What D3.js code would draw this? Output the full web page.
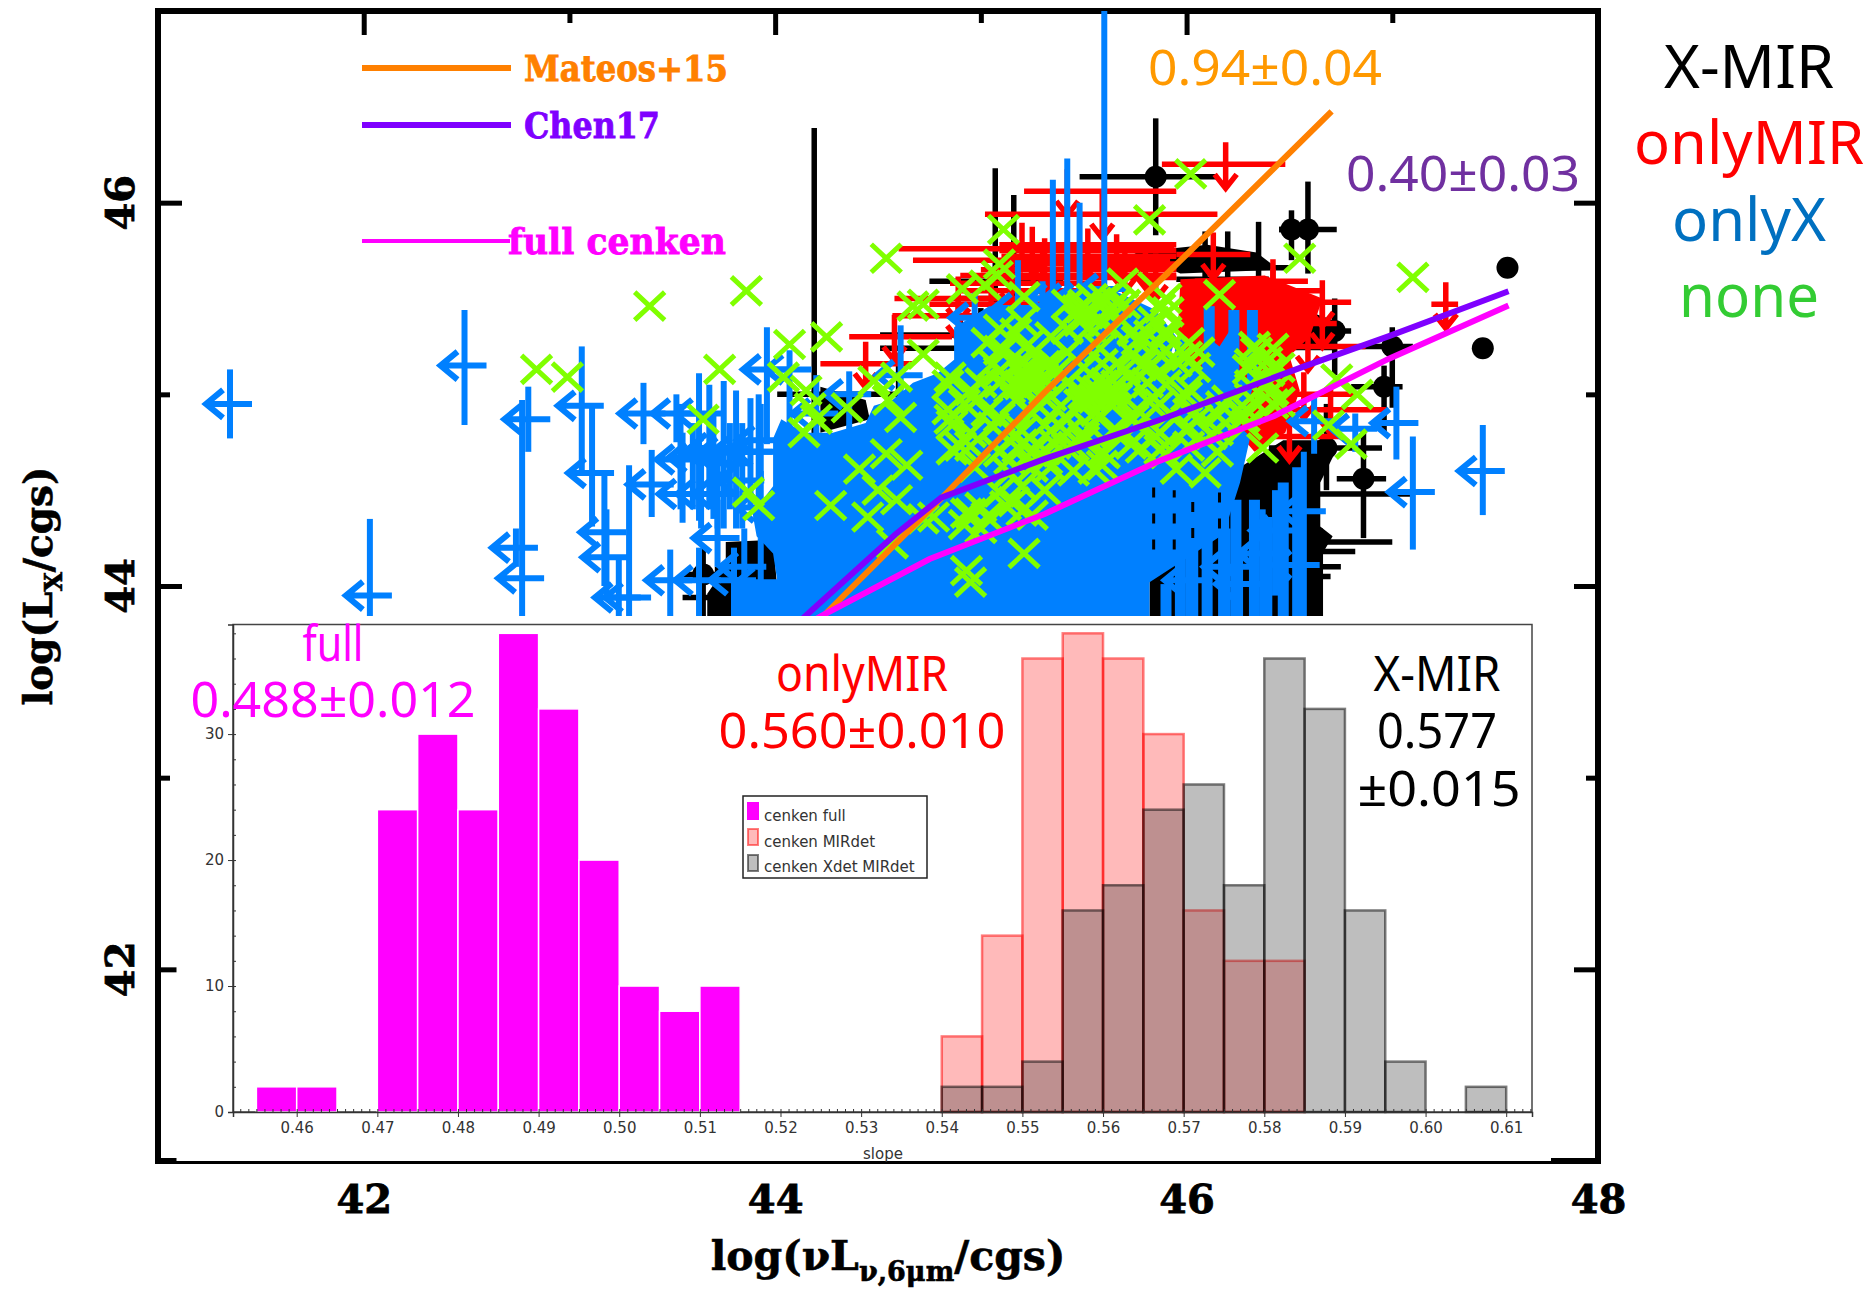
<!DOCTYPE html>
<html>
<head>
<meta charset="utf-8">
<script src="https://cdn.jsdelivr.net/npm/d3@7"></script>
<style>
  html, body { margin: 0; padding: 0; background: #fff; }
  svg { display: block; }
  .serif { font-family: "DejaVu Serif", serif; font-weight: bold; }
  .note { font-family: "Noto Sans", "DejaVu Sans", sans-serif; }
  .small { font-family: "DejaVu Sans", sans-serif; fill: #333; }
</style>
</head>
<body>
<div id="chart"></div>
<script>
// ---- main panel values (log units) ----
var majorTicks = [42, 44, 46, 48];
var minorTicks = [43, 45, 47];
var yMajorTicks = [42, 44, 46];
var yMinorTicks = [43, 45];

// [x, y, yLow, yHigh]
var blueLimits = [
  [41.35,44.95,44.77,45.13],[42.49,45.15,44.84,45.44],[42.80,44.87,44.70,45.04],[42.74,44.20,44.10,44.30],
  [42.77,44.04,43.80,44.97],[43.06,44.94,44.59,45.25],[43.11,44.59,44.31,44.93],[43.36,44.90,44.74,45.06],
  [43.40,44.53,44.36,44.71],[43.17,44.28,44.00,44.60],[43.18,44.15,43.95,44.40],[43.24,43.94,43.80,44.15],
  [43.29,43.94,43.80,44.63],[43.49,44.03,43.80,44.19],[42.03,43.95,43.70,44.35],[43.63,44.90,44.34,45.11],
  [43.54,44.66,44.40,44.95],[43.55,44.48,44.33,44.80],[43.52,44.90,44.75,45.00],[43.96,45.13,44.74,45.35],
  [44.07,45.13,44.80,45.23],[43.63,44.03,43.80,44.20],[43.80,44.03,43.80,44.20],[43.68,44.70,44.40,45.05],
  [43.75,44.70,44.30,45.07],[43.81,44.70,44.30,45.02],[43.88,44.70,44.40,44.98],[43.92,44.70,44.40,45.00],
  [43.60,44.67,44.40,44.85],[43.64,44.48,44.30,44.70],[43.70,44.72,44.35,44.90],[43.72,44.48,44.30,44.70],
  [43.78,44.64,44.40,44.85],[43.84,44.55,44.30,44.85],[43.93,44.76,44.55,44.95],[43.93,44.41,44.25,44.60],
  [43.85,44.10,43.80,44.30],[43.93,44.02,43.80,44.25],[43.72,44.25,44.10,44.45],
  [47.02,44.85,44.66,45.04],[47.10,44.49,44.19,44.78],[47.44,44.60,44.37,44.84],[46.82,44.82,44.70,44.90],
  [46.62,44.86,44.69,45.00],[46.57,44.39,43.80,44.70],[46.54,44.11,43.80,44.41],[46.37,44.17,43.80,44.40],
  [46.26,44.01,43.80,44.20],[46.01,44.03,43.80,44.20],[46.43,44.29,43.95,44.50],[46.20,44.10,43.80,44.30],
  [45.60,45.55,45.30,47.00],[45.42,45.50,45.30,46.23],[45.35,45.50,45.30,46.12],[45.48,45.50,45.30,46.00],
  [45.30,45.40,45.20,45.59],[45.18,45.45,45.20,45.70],[44.97,45.40,45.10,45.53],[44.61,45.10,44.90,45.36],
  [44.36,45.00,44.80,45.12],[44.20,44.90,44.70,45.10]
];

// blue error bars that merge into columns [x, yLow, yHigh]
var blueBars = [
  [45.90,43.70,44.01],[45.97,43.70,44.15],[46.03,43.70,44.19],[46.10,43.70,44.27],[46.18,43.70,44.45],
  [46.24,43.70,44.45],[46.33,43.70,44.45],[46.39,43.70,44.36],[46.47,43.70,44.54],[46.54,43.70,44.62],
  [46.11,45.09,45.46],[46.23,45.00,45.44],[46.32,45.05,45.44],[45.97,45.10,45.29]
];

// [x, y, xLow, xHigh]
var redLimits = [
  [46.19,46.20,45.88,46.48],[45.42,46.06,45.21,45.95],[45.59,45.94,45.02,46.15],[45.25,45.76,44.60,45.94],
  [45.31,45.70,44.67,45.92],[46.13,45.73,45.95,46.31],[44.89,45.50,44.58,45.59],[44.89,45.41,44.57,45.42],
  [44.58,45.30,44.36,44.86],[44.44,45.16,44.22,44.67],[46.42,45.59,46.04,46.59],[46.42,45.54,46.09,46.66],
  [46.66,45.48,46.15,46.80],[46.66,45.37,46.29,46.73],[46.59,45.25,46.01,46.87],[46.57,45.00,46.29,46.83],
  [46.70,44.92,46.40,46.97],[47.26,45.47,47.19,47.32],[45.48,45.61,45.03,45.95],[45.70,45.66,45.40,45.95],
  [45.20,45.78,45.09,45.95],[45.52,45.75,45.09,45.95],[45.66,45.72,45.10,45.95],[45.80,45.68,45.10,45.95],
  [45.30,45.65,45.00,45.95],[45.85,45.62,44.90,45.95],[45.15,45.58,44.85,45.60],[45.30,45.54,44.90,45.60],
  [45.05,45.47,44.75,45.50],[45.20,45.35,44.95,45.50],[46.50,44.78,46.35,46.75]
];

// black detections with a visible circle [x, y, xLow, xHigh, yLow, yHigh]
var blackPoints = [
  [45.85,46.135,45.48,46.15,45.83,46.44],[46.59,45.86,46.45,46.73,45.63,46.11],[46.51,45.86,46.45,46.60,45.70,45.96],
  [47.56,45.66,47.56,47.56,45.66,45.66],[47.44,45.24,47.44,47.44,45.24,45.24],[47.00,45.25,46.85,47.10,44.93,45.35],
  [46.96,45.04,46.80,47.05,44.80,45.15],[46.86,44.56,46.73,46.97,44.25,44.82],[46.68,44.72,46.40,46.95,44.50,44.95],
  [46.72,45.33,46.40,46.80,45.10,45.50],[43.65,44.06,43.55,43.90,43.80,44.20]
];

// black detections whose circle is buried under other marks, only the bars show
var blackBars = [
  [44.19,44.70,44.10,44.40,44.70,46.39],[44.60,45.00,44.01,44.70,44.80,45.20],
  [45.07,45.59,44.75,45.40,45.30,46.18],[45.16,45.50,44.90,45.40,45.20,46.04],[44.90,45.24,44.51,45.20,45.00,45.40],
  [45.00,45.31,44.51,45.20,45.10,45.45],
  [46.20,45.60,45.95,46.40,45.30,45.85],[46.35,45.66,46.10,46.50,45.40,45.90],[46.09,45.72,45.75,46.20,45.50,45.85],
  [46.57,44.23,46.30,47.00,44.00,44.50],[46.43,44.18,46.20,46.82,43.80,44.40],[46.60,44.48,46.30,47.10,44.20,44.70],
  [46.65,44.10,46.40,46.75,43.80,44.30],[46.61,44.05,46.40,46.70,43.80,44.30],[46.50,44.00,46.30,46.65,43.80,44.25],
  [43.72,43.94,43.55,43.90,43.80,44.10]
];

// [x, y]
var greenPoints = [
  [43.39,45.46],[43.86,45.54],[42.84,45.13],[42.99,45.09],[44.54,45.71],[44.25,45.30],[44.07,45.26],[43.73,45.13],
  [45.11,45.86],[46.02,46.15],[45.82,45.91],[46.55,45.71],[47.10,45.61],[44.72,45.47],[45.09,45.68],
  [43.65,44.87],[43.87,44.49],[43.92,44.42],[44.27,44.42],[44.04,45.09],[44.15,45.02],[44.17,44.93],[44.20,44.87],[44.14,44.80],
  [44.35,44.93],[44.48,45.07],[44.59,45.09],[44.55,44.97],[44.61,44.88],[44.72,45.21],[44.85,45.09],[44.91,45.55],[45.08,45.62],[45.21,45.51],
  [44.41,44.61],[44.54,44.69],[44.64,44.63],[44.45,44.36],[44.50,44.50],[44.59,44.45],[45.21,44.17],[44.93,44.08],[44.95,44.02],
  [44.77,44.36],[44.93,44.38],[44.57,44.22],[44.85,44.87],[44.90,44.73],[44.98,44.97],[45.09,45.34],[45.06,45.16],
  [46.37,44.72],[46.69,44.84],[46.80,44.74],[46.73,45.08],[46.83,45.00],
  [45.02,45.57],[45.20,45.38],[45.69,45.58],[45.84,45.56],[45.90,45.50],[46.16,45.52],
  [44.67,45.46],[45.42,45.47],[45.49,45.45],[45.56,45.48],[45.63,45.44],[45.70,45.47],[45.87,45.45],[45.91,45.43],
  [45.42,45.34],[45.48,45.38],[45.53,45.35],[45.59,45.37],[45.64,45.34],[45.84,45.38],[45.90,45.33],
  [45.03,45.27],[45.11,45.23],[45.23,45.26],[45.42,45.22],[45.76,45.28],[45.84,45.24],[46.01,45.27],[46.06,45.22],[46.33,45.25],
  [45.09,45.12],[45.20,45.16],[45.25,45.13],[45.31,45.15],[45.37,45.12],
  [45.59,45.16],[45.70,45.13],[45.78,45.15],[45.87,45.12],[46.04,45.14],[46.31,45.16],[46.40,45.12],[46.45,45.14],
  [44.84,45.05],[44.95,45.02],[45.00,45.06],[45.14,45.03],[45.23,45.05],
  [45.31,45.02],[45.42,45.06],[45.53,45.03],[45.59,45.05],[45.64,45.02],[45.81,45.06],[46.01,45.03],[46.31,45.05],[46.42,45.02],
  [44.84,44.92],[44.92,44.95],[45.03,44.91],[45.28,44.94],
  [45.37,44.92],[45.48,44.95],[45.56,44.91],[45.64,44.94],[45.76,44.92],[45.87,44.95],[46.04,44.91],[46.17,44.94],[46.29,44.92],[46.42,44.95],
  [44.86,44.84],[44.95,44.80],[45.06,44.83],[45.20,44.81],[45.31,44.84],[45.42,44.80],[45.53,44.83],
  [45.64,44.81],[45.76,44.84],[45.87,44.80],[46.01,44.83],[46.15,44.81],[46.29,44.84],
  [44.86,44.71],[44.95,44.73],[45.09,44.70],[45.20,44.74],[45.31,44.71],[45.45,44.73],
  [45.59,44.70],[45.73,44.74],[45.87,44.71],[46.01,44.73],[46.15,44.70],
  [44.97,44.62],[45.14,44.59],[45.25,44.62],[45.45,44.60],[45.59,44.63],[45.95,44.61],[46.09,44.59],
  [45.09,44.49],[45.20,44.52],[45.31,44.50],[44.95,44.38],[45.00,44.41],[45.20,44.39],[45.25,44.37],
  [44.72,44.35],[44.92,44.32],[45.00,44.30],[45.03,44.36],
  // tight knots where the crosses merge
  [45.20,45.10],[45.24,45.08],[45.26,45.12],[45.19,45.05],[45.28,45.06],[45.22,45.14],[45.30,45.09],
  [45.50,45.47],[45.54,45.50],[45.58,45.46],[45.47,45.44],[45.52,45.42],[45.60,45.50],[45.66,45.48],
  [45.57,45.02],[45.61,45.06],[45.55,44.98],[45.63,44.99],[45.66,45.05],[45.50,45.00],
  [45.14,44.66],[45.18,44.72],[45.32,44.66],[45.36,44.74],[45.50,44.76],[45.12,44.42],[45.16,44.44],
  // filling of the band between the two fits
  [45.17,45.32],[45.34,45.30],[45.74,45.33],[45.82,45.31],[45.90,45.30],
  [45.09,45.23],[45.25,45.21],[45.58,45.24],[45.74,45.21],[45.90,45.23],[46.00,45.20],[46.34,45.22],[46.42,45.24],
  [45.17,45.15],[45.34,45.17],[45.50,45.14],[45.66,45.16],[45.82,45.14],[45.95,45.17],[46.30,45.13],[46.39,45.17],
  [45.09,45.06],[45.25,45.04],[45.74,45.07],[45.90,45.05],[46.40,45.06],
  [45.17,44.97],[45.34,44.99],[45.50,44.96],[45.66,44.98],[45.82,44.96],[46.00,44.99],[46.20,44.97],[46.31,44.98],[46.45,44.96],
  [45.09,44.88],[45.25,44.90],[45.42,44.87],[45.58,44.89],[45.74,44.87],[45.92,44.90],[46.05,44.87],[46.15,44.89],[46.28,44.88],
  [45.17,44.79],[45.34,44.81],[45.50,44.78],[45.66,44.80],[45.85,44.78],[46.00,44.81],[46.12,44.79],
  [45.25,44.70],[45.42,44.72],[45.60,44.69],[45.78,44.72],[45.90,44.69],
  [45.34,44.62],[45.55,44.61]
];

// outlines of the parts where the marks merge into a solid colour [x, y]
var blueMass = [
  [43.81,43.65],[43.81,44.00],[44.01,44.03],[43.99,44.17],[43.91,44.26],[43.89,44.38],[43.99,44.52],[43.99,44.77],
  [44.03,44.87],[44.14,44.80],[44.28,44.80],[44.44,44.85],[44.48,44.94],[44.57,44.97],[44.67,45.06],[44.79,45.11],
  [44.87,45.18],[44.87,45.35],[44.95,45.40],[45.04,45.46],[45.22,45.44],[45.40,45.55],[45.65,45.54],[45.85,45.44],
  [45.95,45.30],[45.92,45.20],[46.07,45.13],[46.10,45.30],[46.16,45.25],[46.22,45.35],[46.26,45.09],[46.33,45.06],
  [46.26,44.83],[46.31,44.78],[46.26,44.54],[46.18,44.27],[45.82,44.02],[45.82,43.65]
];
var redMass = [
  [45.97,45.60],[46.38,45.62],[46.66,45.50],[46.60,45.30],[46.50,45.20],[46.55,45.02],[46.48,44.80],[46.33,44.70],
  [46.25,44.80],[45.95,45.15]
];
var blackMass = [
  [46.47,44.76],[46.71,44.76],[46.71,44.67],[46.65,44.54],[46.65,44.31],[46.71,44.26],[46.65,44.15],[46.665,43.65],
  [45.82,43.65],[45.82,44.19],[46.26,44.62]
];
var blackMassTop = [[45.74,45.74],[46.10,45.78],[46.34,45.74],[46.45,45.65],[45.97,45.63]];
var blackMassRight = [[46.52,45.46],[46.76,45.37],[46.71,45.23],[46.52,45.23]];
var blackMassLeft = [[43.76,44.23],[43.99,44.24],[44.01,43.99],[43.81,43.65],[43.67,43.65],[43.67,43.96],[43.76,44.10]];
var blackMassUpper = [[44.22,45.04],[44.44,44.97],[44.46,44.87],[44.22,44.80]];

// black bars that show through the blue as broken lines [x, yLow, yHigh]
var blackStreaks = [[45.84,44.19,44.54],[45.94,44.19,44.50],[46.03,44.25,44.54],[46.16,44.30,44.54]];

// fitted relations [x, y]
var orangeFit = [[44.10,43.70],[44.81,44.46],[45.31,45.01],[46.01,45.74],[46.705,46.476]];
var violetFit = [[44.00,43.70],[44.584,44.269],[44.807,44.461],[45.31,44.663],[45.868,44.866],[46.565,45.143],[46.984,45.304],[47.565,45.538]];
var magentaFit = [[44.00,43.70],[44.221,43.842],[44.751,44.141],[45.31,44.376],[45.868,44.653],[46.426,44.887],[46.984,45.186],[47.565,45.463]];

var legendNames = ["Mateos+15", "Chen17", "full cenken"];
var legendColors = ["#ff8000", "#7f00ff", "#ff00ff"];

// ---- inset histogram values ----
var binStarts = [0.455,0.46,0.465,0.47,0.475,0.48,0.485,0.49,0.495,0.50,0.505,0.51,0.515,0.52,0.525,0.53,0.535,
                 0.54,0.545,0.55,0.555,0.56,0.565,0.57,0.575,0.58,0.585,0.59,0.595,0.60,0.605];
var fullCounts = [2,2,0,24,30,24,38,32,20,10,8,10,0,0,0,0,0,0,0,0,0,0,0,0,0,0,0,0,0,0,0];
var mirCounts  = [0,0,0,0,0,0,0,0,0,0,0,0,0,0,0,0,0,6,14,36,38,36,30,16,12,12,0,0,0,0,0];
var xmirCounts = [0,0,0,0,0,0,0,0,0,0,0,0,0,0,0,0,0,2,2,4,16,18,24,26,18,36,32,16,4,0,2];
var slopeTicks = [0.46,0.47,0.48,0.49,0.50,0.51,0.52,0.53,0.54,0.55,0.56,0.57,0.58,0.59,0.60,0.61];
var countTicks = [0,10,20,30];
var insetLegend = ["cenken full", "cenken MIRdet", "cenken Xdet MIRdet"];

var width = 1876, height = 1295;

var svg = d3.select("#chart").append("svg")
    .attr("width", width)
    .attr("height", height);

var x = d3.scaleLinear().domain([41, 48]).range([158, 1598]);
var y = d3.scaleLinear().domain([41, 47]).range([1161, 11]);

var insetX = d3.scaleLinear().domain([0.4521, 0.6132]).range([233, 1532]);
var insetY = d3.scaleLinear().domain([0, 38.7]).range([1112, 624.5]);

//frame and ticks go first, the data sits on top of them
svg.append("rect")
    .attr("x", x(41)).attr("y", y(47))
    .attr("width", x(48) - x(41)).attr("height", y(41) - y(47))
    .attr("fill", "none").attr("stroke", "#000").attr("stroke-width", 6);

function styleAxis(g) {
    g.select(".domain").remove();
    g.selectAll("line").attr("stroke", "#000").attr("stroke-width", 5);
}

svg.append("g").attr("transform", "translate(0," + y(47) + ")")
    .call(d3.axisTop(x).tickValues(majorTicks).tickFormat("").tickSize(-24)).call(styleAxis);
svg.append("g").attr("transform", "translate(0," + y(47) + ")")
    .call(d3.axisTop(x).tickValues(minorTicks).tickFormat("").tickSize(-12)).call(styleAxis);
svg.append("g").attr("transform", "translate(0," + y(41) + ")")
    .call(d3.axisBottom(x).tickValues(majorTicks).tickFormat(d3.format("d")).tickSize(-24).tickPadding(24))
    .call(styleAxis)
    .selectAll("text").attr("class", "serif").attr("font-size", 40)
    .attr("fill", "#000").attr("stroke", "#000").attr("stroke-width", 0.8);
svg.append("g").attr("transform", "translate(" + x(41) + ",0)")
    .call(d3.axisLeft(y).tickValues(yMajorTicks).tickFormat("").tickSize(-24)).call(styleAxis);
svg.append("g").attr("transform", "translate(" + x(41) + ",0)")
    .call(d3.axisLeft(y).tickValues(yMinorTicks).tickFormat("").tickSize(-12)).call(styleAxis);
svg.append("g").attr("transform", "translate(" + x(48) + ",0)")
    .call(d3.axisRight(y).tickValues(yMajorTicks).tickFormat("").tickSize(-24)).call(styleAxis);
svg.append("g").attr("transform", "translate(" + x(48) + ",0)")
    .call(d3.axisRight(y).tickValues(yMinorTicks).tickFormat("").tickSize(-12)).call(styleAxis);

//the y labels are turned by hand because they read upward
svg.selectAll(".yLabel").data(yMajorTicks).enter().append("text")
    .attr("class", "serif yLabel")
    .attr("font-size", 40)
    .attr("text-anchor", "middle")
    .attr("stroke", "#000").attr("stroke-width", 0.8)
    .attr("transform", function(d){ return "translate(134," + y(d) + ") rotate(-90)"; })
    .text(function(d){ return d; });

var yTitle = svg.append("text").attr("class", "serif")
    .attr("font-size", 39)
    .attr("text-anchor", "middle")
    .attr("stroke", "#000").attr("stroke-width", 0.6)
    .attr("transform", "translate(52,586) rotate(-90)");
yTitle.append("tspan").text("log(L");
yTitle.append("tspan").attr("font-size", 25).attr("dy", 10).text("X");
yTitle.append("tspan").attr("dy", -10).text("/cgs)");

var xTitle = svg.append("text").attr("class", "serif")
    .attr("font-size", 41)
    .attr("text-anchor", "middle")
    .attr("stroke", "#000").attr("stroke-width", 0.6)
    .attr("x", 888).attr("y", 1270);
xTitle.append("tspan").text("log(\u03bdL");
xTitle.append("tspan").attr("font-size", 27).attr("dy", 11).text("\u03bd,6\u03bcm");
xTitle.append("tspan").attr("dy", -11).text("/cgs)");

var massLine = d3.line()
    .x(function(d){ return x(d[0]); })
    .y(function(d){ return y(d[1]); });

function drawMass(points, color) {
    svg.append("path")
        .attr("d", massLine(points) + "Z")
        .attr("fill", color);
}

// black detections, circles with error bars
[blackMass, blackMassTop, blackMassRight, blackMassLeft, blackMassUpper].forEach(function(m){
    drawMass(m, "#000");
});
var black = svg.append("g").attr("stroke", "#000").attr("stroke-width", 5.5);
var allBlack = blackPoints.concat(blackBars);
black.selectAll(".h").data(allBlack).enter().append("line")
    .attr("x1", function(d){ return x(d[2]); }).attr("x2", function(d){ return x(d[3]); })
    .attr("y1", function(d){ return y(d[1]); }).attr("y2", function(d){ return y(d[1]); });
black.selectAll(".v").data(allBlack).enter().append("line")
    .attr("x1", function(d){ return x(d[0]); }).attr("x2", function(d){ return x(d[0]); })
    .attr("y1", function(d){ return y(d[4]); }).attr("y2", function(d){ return y(d[5]); });
black.selectAll("circle").data(blackPoints).enter().append("circle")
    .attr("cx", function(d){ return x(d[0]); })
    .attr("cy", function(d){ return y(d[1]); })
    .attr("r", 11).attr("fill", "#000").attr("stroke", "none");

// red upper limits
drawMass(redMass, "#f00");
var red = svg.append("g").attr("stroke", "#f00").attr("stroke-width", 5.5).attr("fill", "none");
red.selectAll("line").data(redLimits).enter().append("line")
    .attr("x1", function(d){ return x(d[2]); }).attr("x2", function(d){ return x(d[3]); })
    .attr("y1", function(d){ return y(d[1]); }).attr("y2", function(d){ return y(d[1]); });
red.selectAll("path").data(redLimits).enter().append("path")
    .attr("d", function(d){
        var px = x(d[0]), py = y(d[1]);
        return "M" + px + "," + (py - 22) + "V" + (py + 24)
             + "M" + (px - 11) + "," + (py + 10) + "L" + px + "," + (py + 24) + "L" + (px + 11) + "," + (py + 10);
    });

// blue limits
drawMass(blueMass, "#0080ff");
var blue = svg.append("g").attr("stroke", "#0080ff").attr("stroke-width", 6).attr("fill", "none");
blue.selectAll(".bar").data(blueBars).enter().append("line")
    .attr("class", "bar")
    .attr("stroke-width", 11)
    .attr("x1", function(d){ return x(d[0]); }).attr("x2", function(d){ return x(d[0]); })
    .attr("y1", function(d){ return y(d[1]); }).attr("y2", function(d){ return y(d[2]); });
blue.selectAll(".err").data(blueLimits).enter().append("line")
    .attr("class", "err")
    .attr("x1", function(d){ return x(d[0]); }).attr("x2", function(d){ return x(d[0]); })
    .attr("y1", function(d){ return y(d[2]); }).attr("y2", function(d){ return y(d[3]); });
blue.selectAll("path").data(blueLimits).enter().append("path")
    .attr("d", function(d){
        var px = x(d[0]), py = y(d[1]);
        return "M" + (px + 22) + "," + py + "H" + (px - 24)
             + "M" + (px - 7) + "," + (py - 14) + "L" + (px - 24) + "," + py + "L" + (px - 7) + "," + (py + 14);
    });

svg.append("g").attr("stroke", "#000").attr("stroke-width", 3).attr("stroke-dasharray", "10 16")
    .selectAll("line").data(blackStreaks).enter().append("line")
    .attr("x1", function(d){ return x(d[0]); }).attr("x2", function(d){ return x(d[0]); })
    .attr("y1", function(d){ return y(d[1]); }).attr("y2", function(d){ return y(d[2]); });

// green crosses
svg.append("g").attr("stroke", "#80ff00").attr("stroke-width", 5).attr("fill", "none")
    .selectAll("path").data(greenPoints).enter().append("path")
    .attr("d", function(d){
        var px = x(d[0]), py = y(d[1]);
        return "M" + (px - 15) + "," + (py - 14) + "L" + (px + 15) + "," + (py + 14)
             + "M" + (px - 15) + "," + (py + 14) + "L" + (px + 15) + "," + (py - 14);
    });

// fit lines
var fitLine = d3.line()
    .x(function(d){ return x(d[0]); })
    .y(function(d){ return y(d[1]); });
[[orangeFit, "#ff8000"], [violetFit, "#7f00ff"], [magentaFit, "#ff00ff"]].forEach(function(f){
    svg.append("path").attr("d", fitLine(f[0]))
        .attr("fill", "none").attr("stroke", f[1]).attr("stroke-width", 6);
});

// legend of the main panel
var legendRows = [68, 125, 241];
legendNames.forEach(function(name, i){
    svg.append("line")
        .attr("x1", 362).attr("x2", i == 2 ? 510 : 511)
        .attr("y1", legendRows[i]).attr("y2", legendRows[i])
        .attr("stroke", legendColors[i]).attr("stroke-width", i == 2 ? 4 : 6);
    svg.append("text").attr("class", "serif")
        .attr("x", i == 2 ? 508 : 524).attr("y", legendRows[i] + 13)
        .attr("font-size", 35)
        .attr("textLength", [204, 136, 218][i])
        .attr("lengthAdjust", "spacingAndGlyphs")
        .attr("fill", legendColors[i])
        .attr("stroke", legendColors[i]).attr("stroke-width", 0.8)
        .text(name);
});

//white panel of the pasted histogram
svg.append("rect")
    .attr("x", 176.5).attr("y", 616)
    .attr("width", 1551 - 176.5).attr("height", 1161 - 616)
    .attr("fill", "#fff");
svg.append("rect")
    .attr("x", insetX.range()[0]).attr("y", insetY.range()[1])
    .attr("width", insetX.range()[1] - insetX.range()[0])
    .attr("height", insetY.range()[0] - insetY.range()[1])
    .attr("fill", "#fff").attr("stroke", "#444").attr("stroke-width", 1.5);

var binWidth = 0.005;

function drawBars(counts, fill, stroke, strokeWidth) {
    svg.append("g").selectAll("rect").data(binStarts).enter()
        .filter(function(d, i){ return counts[i] > 0; })
        .append("rect")
        .attr("x", function(d){ return insetX(d); })
        .attr("width", function(d){ return insetX(d + binWidth) - insetX(d); })
        .attr("y", function(d){ return insetY(counts[binStarts.indexOf(d)]); })
        .attr("height", function(d){ return insetY(0) - insetY(counts[binStarts.indexOf(d)]); })
        .attr("fill", fill).attr("stroke", stroke).attr("stroke-width", strokeWidth);
}

drawBars(fullCounts, "#ff00ff", "#fff", 1.5);
drawBars(mirCounts, "rgba(255,0,0,0.27)", "rgba(255,0,0,0.5)", 2.5);
drawBars(xmirCounts, "rgba(64,64,64,0.34)", "rgba(0,0,0,0.5)", 2.5);

// inset axes
var insetMinorX = d3.range(0.453, 0.6135, 0.001);
var insetMinorY = d3.range(0, 39, 2);

var insetXAxis = svg.append("g").attr("transform", "translate(0," + insetY(0) + ")")
    .call(d3.axisBottom(insetX).tickValues(slopeTicks).tickFormat(d3.format(".2f")).tickSize(5).tickPadding(5));
insetXAxis.selectAll("text").attr("class", "small").attr("font-size", 15);
insetXAxis.selectAll("line").attr("stroke", "#333");
insetXAxis.select(".domain").attr("stroke", "#333").attr("stroke-width", 1.5);
svg.append("g").attr("transform", "translate(0," + insetY(0) + ")")
    .call(d3.axisTop(insetX).tickValues(insetMinorX).tickFormat("").tickSize(3))
    .call(function(g){ g.select(".domain").remove(); g.selectAll("line").attr("stroke", "#333"); });

var insetYAxis = svg.append("g").attr("transform", "translate(" + insetX.range()[0] + ",0)")
    .call(d3.axisLeft(insetY).tickValues(countTicks).tickFormat(d3.format("d")).tickSize(5).tickPadding(4));
insetYAxis.selectAll("text").attr("class", "small").attr("font-size", 15);
insetYAxis.selectAll("line").attr("stroke", "#333");
insetYAxis.select(".domain").attr("stroke", "#333").attr("stroke-width", 1.5);
svg.append("g").attr("transform", "translate(" + insetX.range()[0] + ",0)")
    .call(d3.axisRight(insetY).tickValues(insetMinorY).tickFormat("").tickSize(3))
    .call(function(g){ g.select(".domain").remove(); g.selectAll("line").attr("stroke", "#333"); });

svg.append("text").attr("class", "small")
    .attr("x", 883).attr("y", 1159)
    .attr("font-size", 15).attr("text-anchor", "middle")
    .text("slope");

// inset legend
svg.append("rect")
    .attr("x", 743).attr("y", 796).attr("width", 184).attr("height", 82)
    .attr("fill", "#fff").attr("stroke", "#222").attr("stroke-width", 1.5);
var swatchFill = ["#ff00ff", "rgba(255,0,0,0.27)", "rgba(64,64,64,0.34)"];
var swatchStroke = ["#ff00ff", "rgba(255,0,0,0.5)", "rgba(0,0,0,0.5)"];
insetLegend.forEach(function(name, i){
    svg.append("rect")
        .attr("x", 748).attr("y", 803 + i * 26).attr("width", 10).attr("height", 16)
        .attr("fill", swatchFill[i]).attr("stroke", swatchStroke[i]).attr("stroke-width", 2);
    svg.append("text").attr("class", "small")
        .attr("x", 764).attr("y", 821 + i * 25.5)
        .attr("font-size", 15)
        .text(name);
});

// big annotations: text, x, y, size, colour, fitted width
var notes = [
    ["X-MIR", 1749, 88, 60, "#000", 170],
    ["onlyMIR", 1749, 164, 60, "#ff0000", 230],
    ["onlyX", 1749, 241, 60, "#0070c0", 154],
    ["none", 1749, 317, 60, "#33cc33", 140],
    ["0.94\u00b10.04", 1265, 85, 50, "#ff9900", 234],
    ["0.40\u00b10.03", 1463, 191, 50, "#7030a0", 234],
    ["full", 333, 661, 50, "#ff00ff", 61],
    ["0.488\u00b10.012", 333, 717, 50, "#ff00ff", 285],
    ["onlyMIR", 862, 691, 50, "#ff0000", 172],
    ["0.560\u00b10.010", 862, 748, 50, "#ff0000", 287],
    ["X-MIR", 1437, 691, 50, "#000", 127],
    ["0.577", 1437, 748, 50, "#000", 120],
    ["\u00b10.015", 1439, 806, 50, "#000", 163]
];
svg.selectAll(".bigNote").data(notes).enter().append("text")
    .attr("class", "note bigNote")
    .attr("text-anchor", "middle")
    .attr("x", function(d){ return d[1]; })
    .attr("y", function(d){ return d[2]; })
    .attr("font-size", function(d){ return d[3]; })
    .attr("fill", function(d){ return d[4]; })
    .attr("textLength", function(d){ return d[5]; })
    .attr("lengthAdjust", "spacingAndGlyphs")
    .text(function(d){ return d[0]; });
</script>
</body>
</html>
